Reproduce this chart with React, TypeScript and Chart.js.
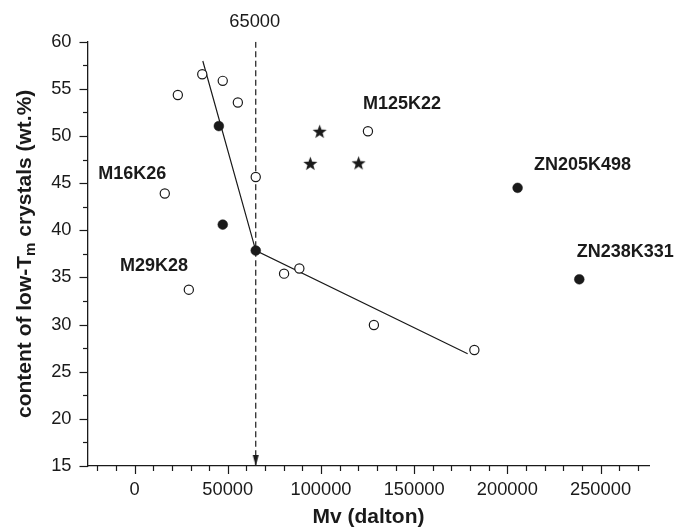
import React, { useEffect, useRef } from 'react';
import { Chart, registerables } from 'chart.js';

Chart.register(...registerables);

// ---- data ----
const OPEN_X = [23200, 36300, 47300, 55400, 65000, 16200, 29100, 80200, 88400, 128400, 182300, 125200];
const OPEN_Y = [54.35, 56.55, 55.85, 53.55, 45.65, 43.9, 33.7, 35.4, 35.95, 29.95, 27.3, 50.5];
const FILLED_X = [45200, 47300, 65000, 205500, 238600];
const FILLED_Y = [51.05, 40.6, 37.85, 44.5, 34.8];
const STAR_X = [99300, 94300, 120200];
const STAR_Y = [50.5, 47.1, 47.15];
const FIT_X = [36600, 65000, 178700];
const FIT_Y = [57.95, 37.85, 26.9];
const CUTOFF_MV = 65000;
const CUTOFF_LABEL = '65000';

const X_MIN = -25000;
const X_MAX = 276000;
const Y_MIN = 15;
const Y_MAX = 60;
const X_LABEL_TICKS = [0, 50000, 100000, 150000, 200000, 250000];
const X_MINOR_STEP = 10000;
const Y_LABEL_TICKS = [15, 20, 25, 30, 35, 40, 45, 50, 55, 60];
const Y_MINOR_STEP = 2.5;

const NOTE_TEXT = ['M16K26', 'M29K28', 'M125K22', 'ZN205K498', 'ZN238K331'];
const NOTE_X = [-19450, -7870, 122500, 214300, 237200];
const NOTE_Y = [46.0, 36.2, 53.4, 46.9, 37.65];

const X_TITLE = 'Mv (dalton)';
const Y_TITLE_PARTS = ['content of low-T', 'm', ' crystals (wt.%)'];

const FONT = "'Liberation Sans', Arial, Helvetica, sans-serif";
const INK = '#1a1a1a';
const TICK_SIZE = 18.3;

function makeStar(R: number): HTMLCanvasElement {
  const size = Math.ceil(R * 2 + 2);
  const c = document.createElement('canvas');
  c.width = size;
  c.height = size;
  const ctx = c.getContext('2d')!;
  const cx = size / 2;
  const cy = size / 2 + R * 0.1;
  const r = R * 0.42;
  ctx.beginPath();
  for (let i = 0; i < 10; i++) {
    const rad = i % 2 === 0 ? R : r;
    const a = -Math.PI / 2 + (i * Math.PI) / 5;
    const px = cx + rad * Math.cos(a);
    const py = cy + rad * Math.sin(a);
    if (i === 0) ctx.moveTo(px, py);
    else ctx.lineTo(px, py);
  }
  ctx.closePath();
  ctx.fillStyle = INK;
  ctx.fill();
  return c;
}

// narrow downward arrowhead whose tip sits at the image centre
function makeArrow(w: number, h: number): HTMLCanvasElement {
  const c = document.createElement('canvas');
  c.width = Math.ceil(w) + 2;
  c.height = Math.ceil(h) * 2;
  const ctx = c.getContext('2d')!;
  const cx = c.width / 2;
  const tipY = c.height / 2;
  ctx.beginPath();
  ctx.moveTo(cx - w / 2, tipY - h);
  ctx.lineTo(cx + w / 2, tipY - h);
  ctx.lineTo(cx, tipY);
  ctx.closePath();
  ctx.fillStyle = INK;
  ctx.fill();
  return c;
}

function range(min: number, max: number, step: number): number[] {
  const out: number[] = [];
  const start = Math.ceil(min / step) * step;
  for (let v = start; v <= max + 1e-9; v += step) out.push(Math.round(v * 1000) / 1000);
  return out;
}

const decorPlugin = {
  id: 'decor',
  afterDraw(chart: any) {
    const ctx = chart.ctx as CanvasRenderingContext2D;
    const xs = chart.scales.x;
    const ys = chart.scales.y;
    const area = chart.chartArea;
    ctx.save();
    ctx.strokeStyle = INK;
    ctx.lineWidth = 1.2;
    // x tick marks
    for (const v of range(X_MIN, X_MAX, X_MINOR_STEP)) {
      const major = X_LABEL_TICKS.includes(v);
      const px = Math.round(xs.getPixelForValue(v)) + 0.5;
      ctx.beginPath();
      ctx.moveTo(px, area.bottom);
      ctx.lineTo(px, area.bottom + (major ? 8 : 5));
      ctx.stroke();
    }
    // y tick marks
    for (const v of range(Y_MIN, Y_MAX, Y_MINOR_STEP)) {
      const major = Y_LABEL_TICKS.includes(v);
      const py = Math.round(ys.getPixelForValue(v)) + 0.5;
      ctx.beginPath();
      ctx.moveTo(area.left - (major ? 8.5 : 5), py);
      ctx.lineTo(area.left, py);
      ctx.stroke();
    }
    ctx.fillStyle = INK;
    ctx.textBaseline = 'middle';
    // cutoff label
    ctx.font = `${TICK_SIZE}px ${FONT}`;
    ctx.textAlign = 'center';
    ctx.fillText(CUTOFF_LABEL, xs.getPixelForValue(CUTOFF_MV) - 1, area.top - 20);
    // point annotations
    ctx.font = `bold 18px ${FONT}`;
    ctx.textAlign = 'left';
    NOTE_TEXT.forEach((t, i) => {
      ctx.fillText(t, xs.getPixelForValue(NOTE_X[i]), ys.getPixelForValue(NOTE_Y[i]));
    });
    // x title
    ctx.font = `bold 21px ${FONT}`;
    ctx.textAlign = 'center';
    ctx.fillText(X_TITLE, (area.left + area.right) / 2, 517);
    // y title with subscript
    const mainFont = `bold 21px ${FONT}`;
    const subFont = `bold 15px ${FONT}`;
    ctx.font = mainFont;
    const w0 = ctx.measureText(Y_TITLE_PARTS[0]).width;
    const w2 = ctx.measureText(Y_TITLE_PARTS[2]).width;
    ctx.font = subFont;
    const w1 = ctx.measureText(Y_TITLE_PARTS[1]).width;
    const total = w0 + w1 + w2;
    ctx.translate(25, (area.top + area.bottom) / 2);
    ctx.rotate(-Math.PI / 2);
    ctx.textAlign = 'left';
    let x = -total / 2;
    ctx.font = mainFont;
    ctx.fillText(Y_TITLE_PARTS[0], x, 0);
    x += w0;
    ctx.font = subFont;
    ctx.fillText(Y_TITLE_PARTS[1], x, 6);
    x += w1;
    ctx.font = mainFont;
    ctx.fillText(Y_TITLE_PARTS[2], x, 0);
    ctx.restore();
  },
};

export default function App() {
  const ref = useRef<HTMLCanvasElement | null>(null);
  useEffect(() => {
    if (!ref.current) return;
    const star = makeStar(7.4);
    const arrow = makeArrow(6, 11);
    const pts = (xa: number[], ya: number[]) => xa.map((x, i) => ({ x, y: ya[i] }));
    const chart = new Chart(ref.current, {
      type: 'scatter',
      data: {
        datasets: [
          {
            label: 'open',
            data: pts(OPEN_X, OPEN_Y),
            pointRadius: 4.6,
            pointBackgroundColor: '#ffffff',
            pointBorderColor: INK,
            pointBorderWidth: 1.2,
          },
          {
            label: 'filled',
            data: pts(FILLED_X, FILLED_Y),
            pointRadius: 4.9,
            pointBackgroundColor: INK,
            pointBorderColor: INK,
            pointBorderWidth: 0.5,
          },
          {
            label: 'stars',
            data: pts(STAR_X, STAR_Y),
            pointStyle: star as any,
          },
          {
            label: 'fit',
            data: pts(FIT_X, FIT_Y),
            showLine: true,
            borderColor: INK,
            borderWidth: 1.2,
            pointRadius: 0,
          },
          {
            label: 'cutoff',
            data: [
              { x: CUTOFF_MV, y: Y_MAX },
              { x: CUTOFF_MV, y: Y_MIN },
            ],
            showLine: true,
            borderColor: INK,
            borderWidth: 1.2,
            borderDash: [6, 3.5],
            pointRadius: 0,
          },
          {
            label: 'arrow',
            data: [{ x: CUTOFF_MV, y: Y_MIN }],
            pointStyle: arrow as any,
          },
        ],
      },
      options: {
        animation: false,
        responsive: true,
        maintainAspectRatio: false,
        events: [],
        layout: { padding: { left: 0, top: 41.7, right: 29, bottom: 0 } },
        plugins: { legend: { display: false }, tooltip: { enabled: false } },
        scales: {
          x: {
            type: 'linear',
            min: X_MIN,
            max: X_MAX,
            afterFit: (s: any) => {
              s.height = 65;
            },
            afterBuildTicks: (s: any) => {
              s.ticks = X_LABEL_TICKS.map((v) => ({ value: v }));
            },
            grid: { display: false, drawTicks: false },
            border: { display: true, color: INK, width: 1.3 },
            ticks: {
              autoSkip: false,
              maxRotation: 0,
              padding: 13,
              color: INK,
              font: { family: FONT, size: TICK_SIZE },
              callback: (v: any) => String(v),
            },
          },
          y: {
            type: 'linear',
            min: Y_MIN,
            max: Y_MAX,
            afterFit: (s: any) => {
              s.width = 88;
            },
            afterBuildTicks: (s: any) => {
              s.ticks = Y_LABEL_TICKS.map((v) => ({ value: v }));
            },
            grid: { display: false, drawTicks: false },
            border: { display: true, color: INK, width: 1.3 },
            ticks: {
              autoSkip: false,
              padding: 16.5,
              color: INK,
              font: { family: FONT, size: TICK_SIZE },
              callback: (v: any) => String(v),
            },
          },
        },
      },
      plugins: [decorPlugin],
    } as any);
    return () => chart.destroy();
  }, []);
  return (
    <div style={{ position: 'fixed', left: 0, top: 0, width: 678, height: 531, background: '#fff' }}>
      <canvas ref={ref} />
    </div>
  );
}
